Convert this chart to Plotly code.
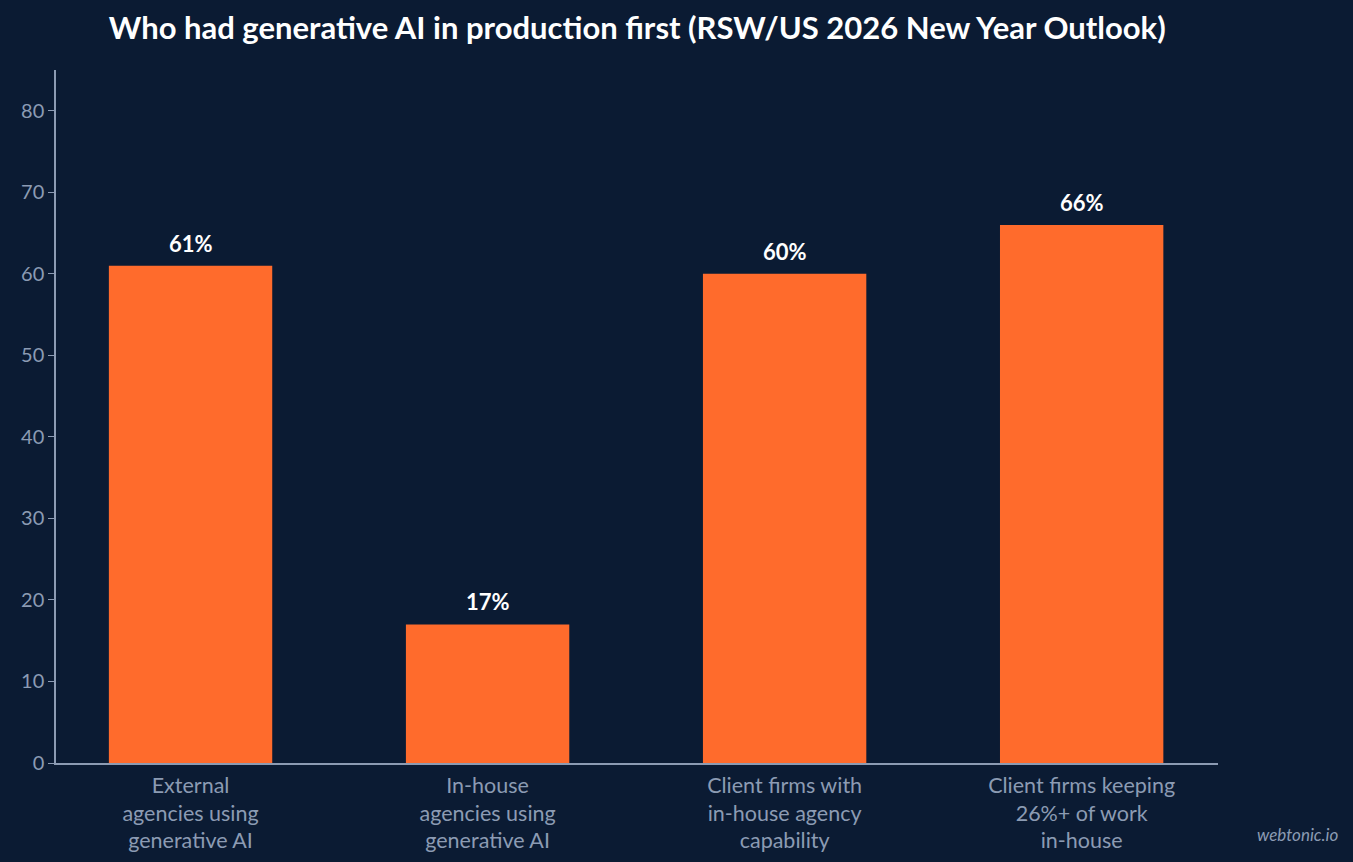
import plotly.graph_objects as go

categories = [
    "External<br>agencies using<br>generative AI",
    "In-house<br>agencies using<br>generative AI",
    "Client firms with<br>in-house agency<br>capability",
    "Client firms keeping<br>26%+ of work<br>in-house",
]
values = [61, 17, 60, 66]
labels = [f"{v}%" for v in values]

BG = "#0b1b33"
ORANGE = "#ff6b2c"
MUTED = "#8c9bb3"

fig = go.Figure(
    go.Bar(
        x=categories,
        y=values,
        width=0.55,
        marker=dict(color=ORANGE, line=dict(width=0)),
        hoverinfo="skip",
    )
)
for cat, val, lab in zip(categories, values, labels):
    fig.add_annotation(
        x=cat, y=val, text=f"<b>{lab}</b>", showarrow=False,
        yanchor="bottom", yshift=7,
        font=dict(color="white", size=22, family="Lato"),
    )

fig.update_layout(
    width=1353,
    height=862,
    paper_bgcolor=BG,
    plot_bgcolor=BG,
    font=dict(family="Lato", color=MUTED, size=20),
    margin=dict(l=56, r=135, t=70, b=99),
    title=dict(
        text="<b>Who had generative AI in production first (RSW/US 2026 New Year Outlook)</b>",
        x=0.471, xanchor="center", y=0.967, yanchor="middle",
        font=dict(color="white", size=31, family="Lato"),
    ),
    showlegend=False,
)
fig.update_xaxes(
    range=[-0.453, 3.459], automargin=False,
    showline=True, linecolor=MUTED, linewidth=1.5, showgrid=False,
    ticks="", tickfont=dict(size=21.5, color=MUTED), ticklabelstandoff=2,
)
fig.update_yaxes(
    range=[0, 85], dtick=10, showline=True, linecolor=MUTED, linewidth=1.5,
    showgrid=False, zeroline=False, ticks="outside", ticklen=6, automargin=False,
    tickcolor=MUTED, tickfont=dict(size=20, color=MUTED),
)
fig.add_annotation(
    text="<i>webtonic.io</i>", x=1, y=0, xref="paper", yref="paper",
    xanchor="right", yanchor="bottom", xshift=122, yshift=-84,
    showarrow=False, font=dict(size=17, color=MUTED),
)

fig.write_html(
    "out.html",
    config={"displayModeBar": False},
    post_script="document.body.style.margin='0';document.body.style.overflow='hidden';",
)
